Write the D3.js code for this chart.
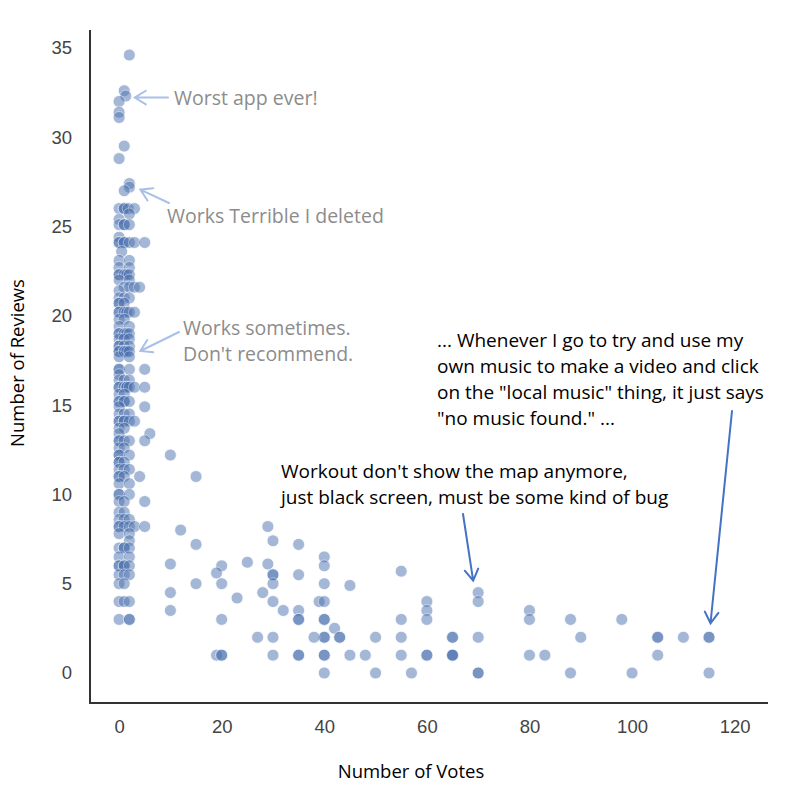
<!DOCTYPE html>
<html>
<head>
<meta charset="utf-8">
<script src="https://cdn.jsdelivr.net/npm/d3@7"></script>
<style>
  body { margin: 0; background: #fff; }
  svg { display: block; }
</style>
</head>
<body>
<div id="chart"></div>
<script>
// reviews level -> votes of the points sitting on that level (left cluster)
const clusterRows = [
  [34.6, [2]], [32.6, [1]], [32.3, [1.3]], [32.0, [0]], [31.4, [0]], [31.1, [0]],
  [29.5, [1]], [28.8, [0]], [27.4, [2]], [27.2, [2]], [27.0, [1]],
  [26.0, [0, 1, 1, 1.8, 3]], [25.7, [2]], [25.4, [0]], [25.1, [0, 1, 1, 2]],
  [24.4, [0]], [24.1, [0, 0, 1, 1, 2, 3, 5]], [23.6, [0.5]], [23.1, [0, 2]],
  [22.7, [0, 2]], [22.3, [0, 0, 1, 1.5, 2]], [22.0, [0, 2]], [21.6, [1, 2, 3, 4]],
  [21.4, [0]], [21.0, [0, 1, 2]], [20.7, [0, 0, 1]], [20.2, [0, 0, 1, 1.5, 2, 3]],
  [19.8, [0, 1]], [19.4, [0, 2]], [19.0, [0, 0, 1, 1.5, 2]], [18.7, [0, 1, 2]],
  [18.3, [0, 0, 1, 2]], [18.0, [0, 0, 1, 1, 1.5, 2]], [17.7, [0, 2]],
  [17.0, [0, 0, 2, 5]], [16.7, [0]], [16.4, [0, 1, 2]], [16.0, [0, 0, 1, 1.5, 1.5, 2, 3, 5]],
  [15.6, [0, 1]], [15.2, [0, 0, 1, 1, 2]], [14.9, [0, 5]], [14.5, [0, 1, 2]],
  [14.1, [0, 0, 1, 1, 2, 3]], [13.7, [0, 1]], [13.4, [0, 6]], [13.0, [0, 0, 1, 2, 5]],
  [12.6, [0, 1]], [12.2, [0, 0, 2]], [11.8, [0, 0, 1]], [11.4, [0, 1, 2]],
  [11.0, [0, 0, 1, 4]], [10.6, [0, 2]], [10.0, [0, 0, 2]], [9.6, [0, 1, 5]],
  [9.0, [0, 1]], [8.6, [0, 1, 2]], [8.2, [0, 0, 1, 2, 3, 5]], [7.8, [0, 2]],
  [7.4, [2]], [7.0, [0, 1, 1, 2]], [6.5, [0, 2]], [6.0, [0, 0, 1, 1, 2]],
  [5.5, [0, 1, 2]], [5.0, [0, 1]], [4.0, [0, 1, 2]], [3.0, [0, 2, 2]]
];

// [votes, reviews] for the spread-out points
const tailPoints = [
  [10, 12.2], [15, 11.0], [12, 8.0], [15, 7.2], [10, 6.1], [10, 4.5], [10, 3.5], [15, 5.0],
  [20, 6.0], [19, 5.6], [20, 5.0], [25, 6.2], [29, 8.2], [30, 7.4], [35, 7.2], [29, 6.1],
  [30, 5.5], [30, 5.5], [35, 5.5], [30, 5.0], [28, 4.5], [23, 4.2], [30, 4.0], [32, 3.5],
  [35, 3.5], [35, 3.0], [35, 3.0], [39, 4.0], [40, 4.0], [20, 3.0], [40, 3.0], [40, 3.0],
  [42, 2.5], [43, 2.0], [43, 2.0], [40, 2.0], [40, 2.0], [38, 2.0], [30, 2.0], [27, 2.0],
  [19, 1.0], [20, 1.0], [20, 1.0], [30, 1.0], [35, 1.0], [35, 1.0], [40, 1.0], [40, 1.0],
  [45, 1.0], [48, 1.0], [40, 0], [50, 0], [40, 6.5], [40, 6.0], [40, 5.0], [45, 4.9],
  [55, 5.7], [70, 4.5], [70, 4.0], [60, 4.0], [60, 3.5], [60, 3.0], [55, 3.0], [80, 3.5],
  [80, 3.0], [88, 3.0], [98, 3.0], [50, 2.0], [55, 2.0], [65, 2.0], [65, 2.0], [70, 2.0],
  [90, 2.0], [105, 2.0], [105, 2.0], [110, 2.0], [115, 2.0], [115, 2.0], [55, 1.0],
  [60, 1.0], [60, 1.0], [65, 1.0], [65, 1.0], [65, 1.0], [80, 1.0], [83, 1.0], [105, 1.0],
  [57, 0], [70, 0], [70, 0], [88, 0], [100, 0], [115, 0]
];

const xTicks = [0, 20, 40, 60, 80, 100, 120];
const yTicks = [0, 5, 10, 15, 20, 25, 30, 35];

const grayNotes = [
  { lines: ['Worst app ever!'], target: [1.3, 32.3] },
  { lines: ['Works Terrible I deleted'], target: [2, 27.2] },
  { lines: ['Works sometimes.', "Don't recommend."], target: [2, 18.0] }
];
const reviewNotes = [
  { lines: ["Workout don't show the map anymore,", 'just black screen, must be some kind of bug'], target: [70, 4.5] },
  { lines: ['... Whenever I go to try and use my', 'own music to make a video and click',
            'on the "local music" thing, it just says', '"no music found." ...'], target: [115, 2] }
];

const W = 789, H = 789;
const m = { left: 90, right: 768, top: 30, bottom: 703 };
const textFont = 'Open Sans, sans-serif';

const points = clusterRows.flatMap(([r, vs]) => vs.map(v => [v, r])).concat(tailPoints);

const x = d3.scaleLinear().domain([-5.67, 126.5]).range([m.left, m.right]);
const y = d3.scaleLinear().domain([-1.68, 36.0]).range([m.bottom, m.top]);

const svg = d3.select('#chart').append('svg')
  .attr('width', W).attr('height', H);

// axes (seaborn white style: no ticks, only left + bottom spine)
const gx = svg.append('g').attr('transform', `translate(0,${m.bottom})`)
  .call(d3.axisBottom(x).tickValues(xTicks).tickSize(0).tickPadding(17));
const gy = svg.append('g').attr('transform', `translate(${m.left},0)`)
  .call(d3.axisLeft(y).tickValues(yTicks).tickSize(0).tickPadding(18));
[gx, gy].forEach(g => {
  g.select('.domain').remove();
  g.selectAll('text').attr('font-family', 'Liberation Sans, Arial, sans-serif')
    .attr('font-size', 18.5).attr('fill', '#444');
});
svg.append('path')
  .attr('d', `M${m.left},${m.top}V${m.bottom}H${m.right}`)
  .attr('fill', 'none').attr('stroke', '#333').attr('stroke-width', 2);

svg.append('text')
  .attr('x', 411).attr('y', 778)
  .attr('text-anchor', 'middle')
  .attr('font-family', textFont).attr('font-size', 18.5)
  .text('Number of Votes');
svg.append('text')
  .attr('transform', 'translate(24,363) rotate(-90)')
  .attr('text-anchor', 'middle')
  .attr('font-family', textFont).attr('font-size', 18.5)
  .text('Number of Reviews');

// points
svg.append('g')
  .selectAll('circle')
  .data(points)
  .join('circle')
  .attr('cx', d => x(d[0]))
  .attr('cy', d => y(d[1]))
  .attr('r', 6)
  .attr('fill', '#4c72b0')
  .attr('stroke', '#fff')
  .attr('stroke-width', 0.8)
  .attr('opacity', 0.5);

function arrow(from, to, color, head) {
  const ang = Math.atan2(to[1] - from[1], to[0] - from[0]);
  const a1 = ang + Math.PI - 0.55, a2 = ang + Math.PI + 0.55;
  const p1 = [to[0] + head * Math.cos(a1), to[1] + head * Math.sin(a1)];
  const p2 = [to[0] + head * Math.cos(a2), to[1] + head * Math.sin(a2)];
  svg.append('path')
    .attr('d', `M${from}L${to}M${p1}L${to}L${p2}`)
    .attr('fill', 'none').attr('stroke', color)
    .attr('stroke-width', 2).attr('stroke-linecap', 'round');
}

// gray notes near the cluster
const grayLayout = [
  { tx: 174, ty: 105, from: [168, 97.5], off: [9, 1.5] },
  { tx: 167, ty: 223, from: [169, 203], off: [11, 2.5] },
  { tx: 183, ty: 335, from: [179, 332], off: [11, -0.5] }
];
grayNotes.forEach((n, i) => {
  const L = grayLayout[i];
  const t = svg.append('text')
    .attr('font-family', textFont).attr('font-size', 19.5)
    .attr('fill', '#8c8c8c');
  n.lines.forEach((s, j) => t.append('tspan').attr('x', L.tx).attr('y', L.ty + j * 26).text(s));
  arrow(L.from, [x(n.target[0]) + L.off[0], y(n.target[1]) + L.off[1]], '#a9c0e8', 13);
});

// review text notes
const reviewLayout = [
  { tx: 281, ty: 478, from: [463, 514], off: [-5, -12] },
  { tx: 437, ty: 347, from: [732, 411], off: [1.5, -14] }
];
reviewNotes.forEach((n, i) => {
  const L = reviewLayout[i];
  const t = svg.append('text')
    .attr('font-family', textFont).attr('font-size', 19)
    .attr('fill', '#000');
  n.lines.forEach((s, j) => t.append('tspan').attr('x', L.tx).attr('y', L.ty + j * 26).text(s));
  arrow(L.from, [x(n.target[0]) + L.off[0], y(n.target[1]) + L.off[1]], '#4472c4', 13);
});
</script>
</body>
</html>
